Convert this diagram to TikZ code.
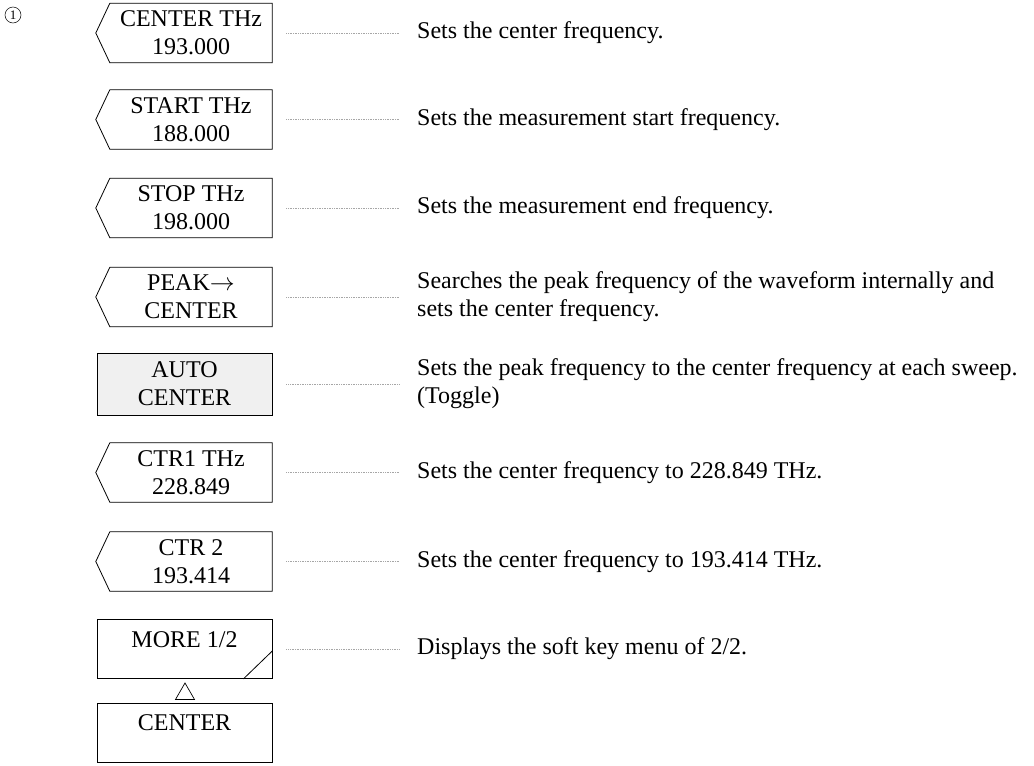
\documentclass[tikz,border=0pt]{standalone}
\usepackage{fontspec}
\setmainfont{Liberation Serif}
\usetikzlibrary{shapes.geometric}

\begin{document}
\begin{tikzpicture}[
  x=1pt, y=-1pt,
  key/.style={minimum width=162pt, minimum height=59pt, inner sep=0pt, align=center, font=\fontsize{24}{28}\selectfont},
  boxkey/.style={key, draw, line width=0.8pt, minimum width=175pt},
  desc/.style={anchor=west, inner sep=0pt, align=left, font=\fontsize{24}{28}\selectfont},
  leader/.style={gray!70, line width=0.7pt, densely dotted}
]
\useasboundingbox (0,0) rectangle (1034,766);
\node[draw, circle, minimum size=16pt, inner sep=0pt, line width=0.5pt, font=\fontsize{13}{13}\selectfont] (num) at (13,15) {1};

% soft keys
\node[key] (center) at (191,33) {CENTER THz\\193.000};
\node[key] (start) at (191,119.5) {START THz\\188.000};
\node[key] (stop) at (191,208) {STOP THz\\198.000};
\node[key] (peak) at (191,297) {PEAK$\rightarrow$\\CENTER};
\node[boxkey, fill=gray!12, minimum height=62pt] (auto) at (184.5,384) {AUTO\\CENTER};
\node[key] (ctra) at (191,472.5) {CTR1 THz\\228.849};
\node[key] (ctrb) at (191,561.5) {CTR 2\\193.414};
\node[boxkey, text height=27pt, text depth=31pt] (more) at (184.5,649) {MORE 1/2};
\node[draw, regular polygon, regular polygon sides=3, minimum size=22pt, inner sep=0pt, line width=0.7pt] (tri) at (185,694) {};
\node[boxkey, text height=22pt, text depth=27pt] (ctrkey) at (184.5,732.5) {CENTER};

\foreach \k in {center,start,stop,peak,ctra,ctrb}
  \draw[line width=0.8pt] (\k.north west) -- (\k.north east) -- (\k.south east) -- (\k.south west) -- ([xshift=-14pt]\k.west) -- cycle;
\draw[line width=0.8pt] ([xshift=-29pt]more.south east) -- ([yshift=28pt]more.south east);

% descriptions
\node[desc] (dcenter) at (417,33) {Sets the center frequency.};
\node[desc] (dstart) at (417,119.5) {Sets the measurement start frequency.};
\node[desc] (dstop) at (417,208) {Sets the measurement end frequency.};
\node[desc] (dpeak) at (417,297) {Searches the peak frequency of the waveform internally and\\sets the center frequency.};
\node[desc] (dauto) at (417,384) {Sets the peak frequency to the center frequency at each sweep.\\(Toggle)};
\node[desc] (dctra) at (417,472.5) {Sets the center frequency to 228.849 THz.};
\node[desc] (dctrb) at (417,561.5) {Sets the center frequency to 193.414 THz.};
\node[desc] (dmore) at (417,649) {Displays the soft key menu of 2/2.};

\foreach \k/\d in {center/dcenter, start/dstart, stop/dstop, peak/dpeak, auto/dauto, ctra/dctra, ctrb/dctrb, more/dmore}
  \draw[leader] ([xshift=14pt]\k.east) -- ([xshift=-17pt]\d.west);
\end{tikzpicture}
\end{document}
